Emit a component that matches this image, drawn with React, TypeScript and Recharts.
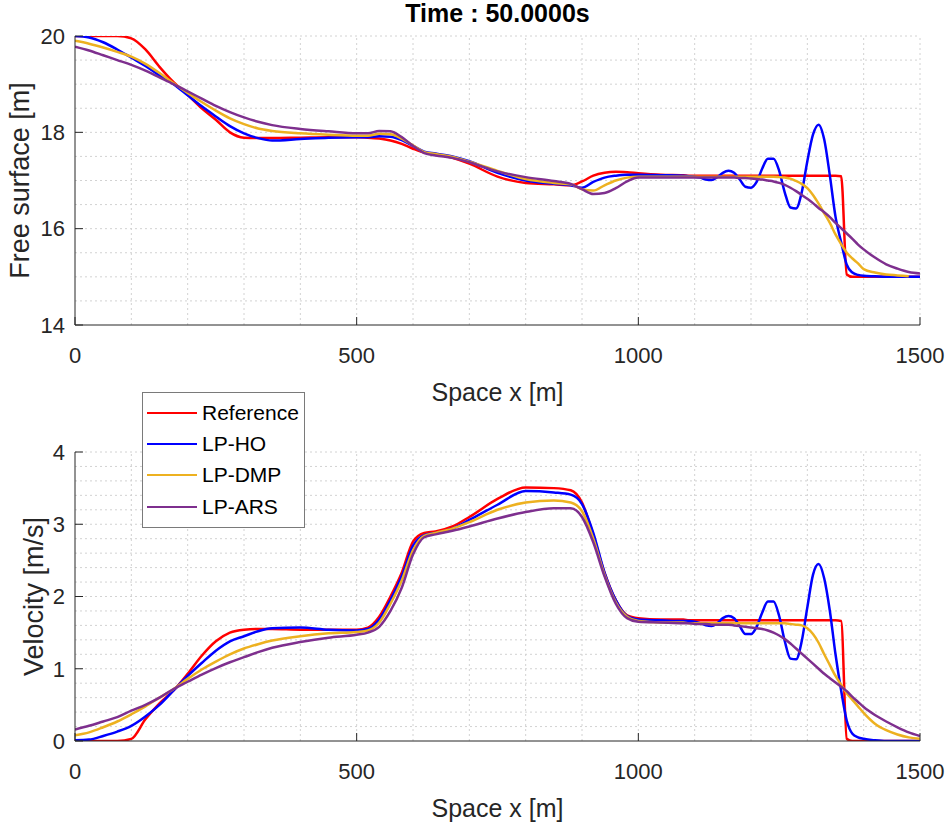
import { Legend, Line, LineChart, ReferenceLine, XAxis, YAxis } from "recharts";

// space coordinate (m), finer spacing where the HO scheme oscillates
const xs = [
  0, 25, 50, 75, 100, 125, 150, 175, 200, 225, 250, 275, 300, 325, 350, 400, 450, 500, 520, 540,
  560, 580, 600, 620, 640, 670, 700, 750, 800, 850, 880, 900, 920, 940, 960, 980, 1000, 1040, 1080,
  1090, 1100, 1110, 1120, 1130, 1140, 1150, 1160, 1170, 1180, 1190, 1200, 1210, 1220, 1230, 1240,
  1250, 1260, 1270, 1280, 1290, 1300, 1310, 1320, 1330, 1340, 1350, 1360, 1370, 1380, 1390, 1400,
  1420, 1440, 1460, 1480, 1500,
];

// free surface (m)
const refH = [
  20.0, 20.0, 20.0, 20.0, 19.95, 19.72, 19.36, 19.04, 18.78, 18.5, 18.26, 18.0, 17.89, 17.88, 17.88,
  17.89, 17.9, 17.9, 17.89, 17.87, 17.83, 17.76, 17.66, 17.58, 17.55, 17.47, 17.35, 17.08, 16.95,
  16.92, 16.9, 16.98, 17.1, 17.16, 17.18, 17.17, 17.15, 17.12, 17.11,
  17.1, 17.1, 17.1, 17.1, 17.1, 17.1, 17.1, 17.1, 17.1, 17.1, 17.1, 17.1, 17.1, 17.1, 17.1, 17.1,
  17.1, 17.1, 17.1, 17.1, 17.1, 17.1, 17.1, 17.1, 17.1, 17.1, 17.1, 17.09, 15.05, 15.0, 15.0, 15.0,
  15.0, 15.0, 15.0, 15.0, 15.0,
];
const hoH = [
  20.0, 19.97, 19.87, 19.72, 19.55, 19.38, 19.18, 19.0, 18.77, 18.54, 18.33, 18.13, 17.98, 17.88,
  17.83, 17.86, 17.89, 17.9, 17.9, 17.92, 17.91, 17.84, 17.72, 17.6, 17.56, 17.5, 17.4, 17.16, 17.0,
  16.93, 16.9, 16.85, 16.97, 17.06, 17.1, 17.12, 17.12, 17.11, 17.1,
  17.09, 17.08, 17.06, 17.02, 17.01, 17.07, 17.16, 17.2, 17.16, 17.02, 16.87, 16.85, 16.97, 17.25,
  17.45, 17.45, 17.2, 16.75, 16.44, 16.42, 16.75, 17.4, 17.95, 18.16, 17.85, 17.1, 16.25, 15.72,
  15.25, 15.09, 15.04, 15.02,
  15.01, 15.0, 15.0, 15.0, 15.0,
];
const dmpH = [
  19.9, 19.84, 19.76, 19.67, 19.57, 19.42, 19.23, 19.02, 18.82, 18.63, 18.45, 18.29, 18.17, 18.08,
  18.03, 17.98, 17.95, 17.93, 17.93, 17.97, 17.96, 17.87, 17.73, 17.59, 17.55, 17.49, 17.39, 17.2,
  17.03, 16.95, 16.92, 16.82, 16.79, 16.9, 17.0, 17.06, 17.08, 17.08, 17.08,
  17.08, 17.08, 17.08, 17.08, 17.08, 17.08, 17.08, 17.08, 17.08, 17.08, 17.08, 17.08, 17.08, 17.08,
  17.08, 17.08, 17.07, 17.06, 17.04, 16.99, 16.93, 16.84, 16.7, 16.52, 16.32, 16.12, 15.88, 15.68,
  15.5, 15.38, 15.28,
  15.16, 15.09, 15.05, 15.03, 15.01,
];
const arsH = [
  19.78, 19.7, 19.6, 19.5, 19.4, 19.28, 19.14, 19.0, 18.85, 18.7, 18.55, 18.42, 18.31, 18.22, 18.15,
  18.07, 18.02, 17.98, 17.98, 18.03, 18.02, 17.9, 17.72, 17.57, 17.52, 17.47, 17.38, 17.19, 17.07,
  16.99, 16.93, 16.82, 16.72, 16.74, 16.84, 16.98, 17.06, 17.06, 17.06,
  17.06, 17.06, 17.06, 17.06, 17.06, 17.06, 17.06, 17.06, 17.06, 17.05, 17.05, 17.04, 17.03, 17.02,
  17.0, 16.98, 16.95, 16.91, 16.85, 16.78, 16.7, 16.62, 16.53, 16.43, 16.34, 16.24, 16.12, 16.01,
  15.9, 15.79, 15.67, 15.57,
  15.4, 15.26, 15.17, 15.1, 15.07,
];

// velocity (m/s)
const refU = [
  0, 0, 0, 0, 0.03, 0.3, 0.52, 0.7, 0.93, 1.18, 1.38, 1.5, 1.54, 1.55, 1.55, 1.54, 1.54, 1.54, 1.57,
  1.72, 2.0, 2.33, 2.76, 2.88, 2.9, 2.97, 3.1, 3.35, 3.51, 3.5, 3.47, 3.3, 2.85, 2.33, 1.95, 1.74,
  1.7, 1.68, 1.68,
  1.67, 1.67, 1.67, 1.67, 1.67, 1.67, 1.67, 1.67, 1.67, 1.67, 1.67, 1.67, 1.67, 1.67, 1.67, 1.67,
  1.67, 1.67, 1.67, 1.67, 1.67, 1.67, 1.67, 1.67, 1.67, 1.67, 1.67, 1.66, 0.03, 0, 0, 0,
  0, 0, 0, 0, 0,
];
const hoU = [
  0.01, 0.02, 0.07, 0.13, 0.21, 0.34, 0.5, 0.7, 0.9, 1.08, 1.25, 1.38, 1.45, 1.52, 1.56, 1.57, 1.54,
  1.53, 1.55, 1.68, 1.95, 2.28, 2.7, 2.85, 2.88, 2.94, 3.06, 3.27, 3.46, 3.44, 3.41, 3.28, 2.88, 2.33,
  1.95, 1.73, 1.68, 1.67, 1.66,
  1.66, 1.65, 1.63, 1.6, 1.59, 1.63, 1.7, 1.73, 1.7, 1.59, 1.48, 1.48, 1.58, 1.78, 1.93, 1.93, 1.73,
  1.38, 1.14, 1.13, 1.38, 1.85, 2.3, 2.45, 2.25, 1.8, 1.2, 0.7, 0.28, 0.1, 0.05, 0.03,
  0.01, 0, 0, 0, 0,
];
const dmpU = [
  0.08, 0.12, 0.19, 0.27, 0.37, 0.48, 0.6, 0.72, 0.86, 0.99, 1.1, 1.2, 1.28, 1.34, 1.39, 1.45, 1.49,
  1.51, 1.53, 1.64, 1.9, 2.22, 2.64, 2.84, 2.88, 2.94, 3.03, 3.2, 3.3, 3.33, 3.3, 3.18, 2.8, 2.3,
  1.92, 1.72, 1.66, 1.64, 1.64,
  1.63, 1.63, 1.63, 1.63, 1.63, 1.63, 1.63, 1.63, 1.63, 1.63, 1.63, 1.63, 1.63, 1.63, 1.63, 1.63,
  1.63, 1.63, 1.62, 1.61, 1.6, 1.56, 1.48, 1.36, 1.2, 1.05, 0.9, 0.78, 0.66, 0.57, 0.48, 0.39,
  0.24, 0.15, 0.09, 0.05, 0.03,
];
const arsU = [
  0.16, 0.21, 0.27, 0.33, 0.42, 0.5, 0.6, 0.72, 0.82, 0.92, 1.01, 1.09, 1.16, 1.23, 1.29, 1.37, 1.43,
  1.47, 1.5, 1.58, 1.8, 2.12, 2.58, 2.82, 2.86, 2.91, 2.97, 3.08, 3.17, 3.22, 3.22, 3.1, 2.75, 2.28,
  1.9, 1.7, 1.65, 1.64, 1.63,
  1.63, 1.62, 1.62, 1.62, 1.61, 1.61, 1.61, 1.61, 1.6, 1.59, 1.58, 1.57, 1.56, 1.55, 1.53, 1.5, 1.46,
  1.41, 1.35, 1.28, 1.21, 1.14, 1.07, 1.0, 0.93, 0.87, 0.81, 0.75, 0.69, 0.61, 0.54, 0.47,
  0.36, 0.27, 0.19, 0.12, 0.07,
];

const xTicks = [0, 500, 1000, 1500];
const hTicks = [14, 16, 18, 20];
const uTicks = [0, 1, 2, 3, 4];
const xGrid = [100, 200, 300, 400, 500, 600, 700, 800, 900, 1000, 1100, 1200, 1300, 1400, 1500];
const hGrid = [14.5, 15, 15.5, 16, 16.5, 17, 17.5, 18, 18.5, 19, 19.5, 20];
const uGrid = [
  0.2, 0.4, 0.6, 0.8, 1, 1.2, 1.4, 1.6, 1.8, 2, 2.2, 2.4, 2.6, 2.8, 3, 3.2, 3.4, 3.6, 3.8, 4,
];

const seriesKeys = ["ref", "ho", "dmp", "ars"];
const seriesNames = ["Reference", "LP-HO", "LP-DMP", "LP-ARS"];
const seriesColors = ["#ff0000", "#0000ff", "#edb120", "#7e2f8e"];

const surfaceData = xs.map((x, i) => ({ x, ref: refH[i], ho: hoH[i], dmp: dmpH[i], ars: arsH[i] }));
const velocityData = xs.map((x, i) => ({ x, ref: refU[i], ho: hoU[i], dmp: dmpU[i], ars: arsU[i] }));

const FONT = '"Liberation Sans", Arial, Helvetica, sans-serif';
const AXIS = "#262626";
const GRID = "#d2d2d2";
const tickStyle = { fontSize: 22, fill: AXIS, fontFamily: FONT };

const xLabel = (props: any) => {
  const vb = props.viewBox || { x: 75, y: 0, width: 845 };
  return (
    <text x={vb.x + vb.width / 2} y={vb.y + 76} textAnchor="middle" fontSize={25} fill={AXIS} fontFamily={FONT}>
      Space x [m]
    </text>
  );
};

const yLabel = (text: string, baseX: number) => (props: any) => {
  const vb = props.viewBox || { y: 0, height: 0 };
  const cy = vb.y + vb.height / 2;
  return (
    <text
      x={baseX}
      y={cy}
      transform={`rotate(-90, ${baseX}, ${cy})`}
      textAnchor="middle"
      fontSize={27}
      fill={AXIS}
      fontFamily={FONT}
    >
      {text}
    </text>
  );
};

function LegendBox() {
  return (
    <div
      style={{
        width: 161,
        height: 130,
        border: "1px solid #7a7a7a",
        background: "#fff",
        paddingTop: 4,
        boxSizing: "content-box",
        fontFamily: FONT,
        fontSize: 21,
        color: "#000",
      }}
    >
      {seriesNames.map((name, i) => (
        <div key={name} style={{ display: "flex", alignItems: "center", height: 31.3 }}>
          <span
            style={{
              display: "inline-block",
              width: 50,
              marginLeft: 4,
              marginRight: 5,
              borderTop: `2.5px solid ${seriesColors[i]}`,
            }}
          />
          <span>{name}</span>
        </div>
      ))}
    </div>
  );
}

function Panel({
  data,
  domain,
  ticks,
  grid,
  label,
  labelX,
  height,
  top,
  withLegend,
}: {
  data: any[];
  domain: [number, number];
  ticks: number[];
  grid: number[];
  label: string;
  labelX: number;
  height: number;
  top: number;
  withLegend?: boolean;
}) {
  return (
    <LineChart
      width={949}
      height={height}
      data={data}
      margin={{ top, right: 29, bottom: 0, left: 0 }}
    >
      {xGrid.map((v) => (
        <ReferenceLine key={`gx${v}`} x={v} stroke={GRID} strokeDasharray="2 3" />
      ))}
      {grid.map((v) => (
        <ReferenceLine key={`gy${v}`} y={v} stroke={GRID} strokeDasharray="2 3" />
      ))}
      <XAxis
        dataKey="x"
        type="number"
        domain={[0, 1500]}
        ticks={xTicks}
        interval={0}
        allowDataOverflow
        height={height - top - 289}
        stroke={AXIS}
        tickSize={-8}
        tickMargin={30}
        tick={tickStyle}
        label={{ content: xLabel }}
      />
      <YAxis
        type="number"
        domain={domain}
        ticks={ticks}
        interval={0}
        allowDataOverflow
        width={75}
        stroke={AXIS}
        tickSize={-8}
        tickMargin={18}
        tick={tickStyle}
        label={{ content: yLabel(label, labelX) }}
      />
      {seriesKeys.map((k, i) => (
        <Line
          key={k}
          type="monotone"
          dataKey={k}
          name={seriesNames[i]}
          stroke={seriesColors[i]}
          strokeWidth={2.5}
          dot={false}
          isAnimationActive={false}
        />
      ))}
      {withLegend && (
        <Legend
          layout="vertical"
          align="center"
          verticalAlign="middle"
          content={<LegendBox />}
          wrapperStyle={{ left: 142, top: 12, width: 163, height: 136 }}
        />
      )}
    </LineChart>
  );
}

export default function App() {
  return (
    <div
      style={{
        position: "absolute",
        left: 0,
        top: 0,
        width: 949,
        height: 830,
        background: "#fff",
        fontFamily: FONT,
        overflow: "hidden",
      }}
    >
      <div
        style={{
          position: "absolute",
          left: 75,
          top: 1,
          width: 845,
          textAlign: "center",
          fontSize: 25,
          lineHeight: "25px",
          fontWeight: "bold",
          color: "#000",
        }}
      >
        Time : 50.0000s
      </div>
      <div style={{ position: "absolute", left: 0, top: 0 }}>
        <Panel
          data={surfaceData}
          domain={[14, 20]}
          ticks={hTicks}
          grid={hGrid}
          label="Free surface [m]"
          labelX={29}
          height={420}
          top={36}
        />
      </div>
      <div style={{ position: "absolute", left: 0, top: 380 }}>
        <Panel
          data={velocityData}
          domain={[0, 4]}
          ticks={uTicks}
          grid={uGrid}
          label="Velocity [m/s]"
          labelX={43}
          height={450}
          top={72}
          withLegend
        />
      </div>
    </div>
  );
}
